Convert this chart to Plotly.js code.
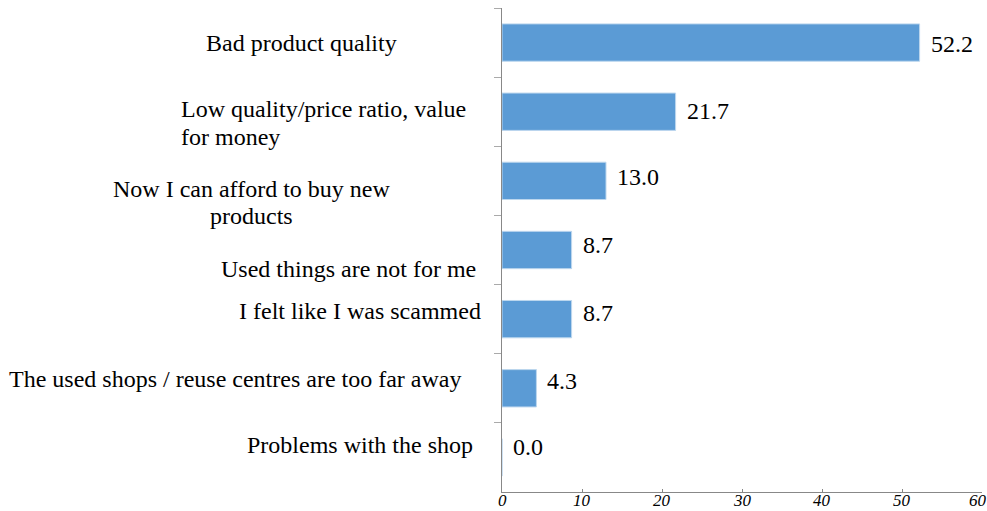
<!DOCTYPE html>
<html>
<head>
<meta charset="utf-8">
<script src="https://cdn.plot.ly/plotly-3.0.1.min.js"></script>
<style>html,body{margin:0;padding:0;background:#fff;}#chart{width:987px;height:511px;}</style>
</head>
<body>
<div id="chart"></div>
<script>
const categories = [
  "Bad product quality",
  "Low quality/price ratio, value for money",
  "Now I can afford to buy new products",
  "Used things are not for me",
  "I felt like I was scammed",
  "The used shops / reuse centres are too far away",
  "Problems with the shop"
];
// wrapped lines of each category label, as shown in the chart
const labelLines = [
  ["Bad product quality"],
  ["Low quality/price ratio, value", "for money"],
  ["Now I can afford to buy new", "products"],
  ["Used things are not for me"],
  ["I felt like I was scammed"],
  ["The used shops / reuse centres are too far away"],
  ["Problems with the shop"]
];
const values = [52.2, 21.7, 13.0, 8.7, 8.7, 4.3, 0.0];
const xTicks = [0, 10, 20, 30, 40, 50, 60];

// ---- placement / styling (layout only) ----
const plotLeft = 502, plotWidth = 480;
const labelPlace = [
  {px: 301, anchor: 'center', dy: [0]},
  {px: 179, anchor: 'left', dy: [3, -25]},
  {px: 252, anchor: 'center', dy: [-8, -35]},
  {px: 478, anchor: 'right', dy: [-19]},
  {px: 483, anchor: 'right', dy: [8]},
  {px: 463, anchor: 'right', dy: [9]},
  {px: 475, anchor: 'right', dy: [12]}
];
const valueDy = [-1, 1, 4, 5, 6, 7, 10];

const serif = "Liberation Serif, Times New Roman, serif";
const annotations = [];
categories.forEach((c, i) => {
  const p = labelPlace[i];
  labelLines[i].forEach((line, k) => {
    annotations.push({
      xref: 'paper', yref: 'y',
      x: (p.px - plotLeft) / plotWidth, y: c,
      xanchor: p.anchor, yanchor: 'middle',
      yshift: p.dy[k],
      text: line, showarrow: false,
      font: {family: serif, size: 24, color: '#000'}
    });
  });
  annotations.push({
    xref: 'x', yref: 'y', x: values[i], y: c,
    xanchor: 'left', yanchor: 'middle', xshift: 9, yshift: valueDy[i],
    text: values[i].toFixed(1), showarrow: false,
    font: {family: serif, size: 24, color: '#000'}
  });
});
xTicks.forEach((t, i) => {
  annotations.push({
    xref: 'x', yref: 'paper', x: t, y: 0,
    xanchor: 'center', yanchor: 'middle', yshift: -8,
    xshift: i === xTicks.length - 1 ? -4 : 0,
    text: String(t), showarrow: false,
    font: {family: serif, size: 17, color: '#000', style: 'italic'}
  });
});

const trace = {
  type: 'bar', orientation: 'h',
  x: values, y: categories,
  marker: {color: '#5B9BD5', line: {color: '#BDD7EE', width: 1}},
  hoverinfo: 'none'
};

const layout = {
  width: 987, height: 511,
  margin: {l: 502, r: 5, t: 8, b: 19},
  paper_bgcolor: '#fff', plot_bgcolor: '#fff',
  showlegend: false,
  bargap: 0.46,
  xaxis: {
    range: [0, 60], tickvals: xTicks,
    showticklabels: false,
    showgrid: false, zeroline: false,
    showline: true, linecolor: '#888', linewidth: 1,
    ticks: 'inside', ticklen: 3, tickcolor: '#888',
    fixedrange: true
  },
  yaxis: {
    type: 'category', autorange: 'reversed',
    showticklabels: false, showgrid: false, zeroline: false,
    showline: true, linecolor: '#888', linewidth: 1,
    ticks: 'outside', tickson: 'boundaries', ticklen: 7, tickcolor: '#aaa',
    fixedrange: true
  },
  annotations: annotations
};

Plotly.newPlot('chart', [trace], layout, {displayModeBar: false, staticPlot: true});
</script>
</body>
</html>
